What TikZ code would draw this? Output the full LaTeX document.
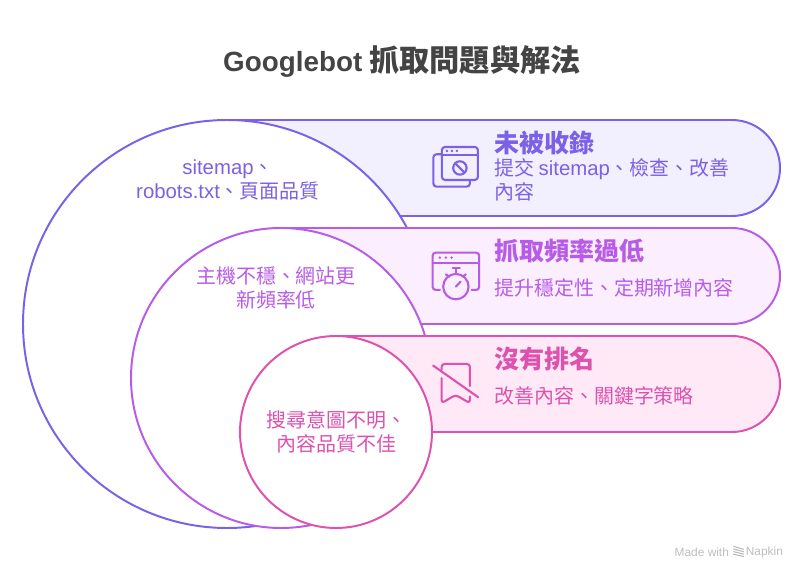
\documentclass[tikz,border=0pt]{standalone}
\usepackage{tkz-euclide}
\usepackage{fontspec}
\setmainfont{Noto Sans CJK TC}
\newfontfamily\lat[Scale=1.02]{Liberation Sans}
\newfontfamily\latbold[Scale=0.92]{Liberation Sans}
\definecolor{violetline}{HTML}{7B61E6}
\definecolor{violetfill}{HTML}{F2EFFF}
\definecolor{orchidline}{HTML}{B85CE8}
\definecolor{orchidfill}{HTML}{FAEEFF}
\definecolor{pinkline}{HTML}{DD52AE}
\definecolor{pinkfill}{HTML}{FFE9F6}
\definecolor{titlegray}{HTML}{444444}
\definecolor{markgray}{HTML}{BDBDBD}
\tikzset{
    head/.style={anchor=west,inner sep=0pt,font=\fontsize{17.8}{21}\selectfont\bfseries},
    body/.style={anchor=west,inner sep=0pt,align=left,font=\fontsize{14.2}{17.07}\selectfont},
    ringtext/.style={inner sep=0pt,align=center,font=\fontsize{14.2}{17.07}\selectfont},
    icon/.style={line width=1.5pt,line cap=round,line join=round,rounded corners=2.2pt},
}
\begin{document}
\begin{tikzpicture}
    \useasboundingbox (0,0) rectangle (20.1,14.4);
    \tkzDefPoint(5.675,6.3){A}
    \tkzDefPoint(7.025,4.95){B}
    \tkzDefPoint(8.4,3.6){C}
    \tkzDefShiftPoint[A](90:5.1){Atop}
    \tkzDefShiftPoint[B](90:3.75){Btop}
    \tkzDefShiftPoint[C](90:2.4){Ctop}
    % bands and rings, back to front
    \draw[line width=1.4pt,draw=violetline,fill=violetfill] (Atop) -- (18.3,11.4) arc (90:-90:1.2) -- (5.675,9) -- cycle;
    \tkzDrawCircle[line width=1.4pt,draw=violetline,fill=white](A,Atop)
    \fill[white] (10.2,6) rectangle (11.2,6.3);
    \draw[line width=1.4pt,draw=orchidline,fill=orchidfill] (Btop) -- (18.3,8.7) arc (90:-90:1.2) -- (7.025,6.3) -- cycle;
    \tkzDrawCircle[line width=1.4pt,draw=orchidline,fill=white](B,Btop)
    \draw[line width=1.4pt,draw=pinkline,fill=pinkfill] (Ctop) -- (18.3,6) arc (90:-90:1.2) -- (8.4,3.6) -- cycle;
    \tkzDrawCircle[line width=1.4pt,draw=pinkline,fill=white](C,Ctop)
    % texts
    \node[text=titlegray,font=\fontsize{21.5}{26}\selectfont\bfseries] (title) at (10.05,12.85) {{\latbold Googlebot} 抓取問題與解法};
    \node[ringtext,text=violetline] (ringa) at (5.7,9.9) {{\lat sitemap}、\\{\lat robots.txt}、頁面品質};
    \node[ringtext,text=orchidline] (ringb) at (6.9,7.2) {主機不穩、網站更\\新頻率低};
    \node[ringtext,text=pinkline] (ringc) at (8.42,3.6) {搜尋意圖不明、\\內容品質不佳};
    \node[head,text=violetline] (heada) at (12.35,10.82) {未被收錄};
    \node[body,text=violetline] (bodya) at (12.35,9.9) {提交 {\lat sitemap}、檢查、改善\\內容};
    \node[head,text=orchidline] (headb) at (12.35,8.12) {抓取頻率過低};
    \node[body,text=orchidline] (bodyb) at (12.35,7.2) {提升穩定性、定期新增內容};
    \node[head,text=pinkline] (headc) at (12.35,5.42) {沒有排名};
    \node[body,text=pinkline] (bodyc) at (12.35,4.5) {改善內容、關鍵字策略};
    \node[anchor=east,inner sep=0pt,text=markgray,font=\lat\fontsize{8.3}{10}\selectfont] (madewith) at (18.23,0.6) {Made with};
    \node[anchor=east,inner sep=0pt,text=markgray,font=\lat\fontsize{8.3}{10}\selectfont] (napkin) at (19.58,0.6) {Napkin};
    % icons, in pixels of the image
    \begin{scope}[shift={(0,14.4)},x=0.025cm,y=-0.025cm]
        \draw[icon,violetline] (442,147) rectangle (478,180);
        \draw[icon,violetline] (442,155) -- (478,155);
        \foreach \x in {447,452,457} \fill[violetline] (\x,151) circle (1.4);
        \draw[icon,violetline] (460,168) circle (6.7);
        \draw[icon,violetline] (455.3,163.3) -- (464.7,172.7);
        \draw[icon,violetline] (441.5,154.3) -- (433.5,154.3) -- (433.5,186.7) -- (470,186.7) -- (470,181.5);
        \draw[icon,orchidline] (440,290) -- (432.7,290) -- (432.7,252.7) -- (479.3,252.7) -- (479.3,290) -- (471.7,290);
        \draw[icon,orchidline] (432.7,263.3) -- (479.3,263.3);
        \foreach \x in {440,446,451.7} \fill[orchidline] (\x,257.7) circle (1.4);
        \draw[icon,orchidline] (456,286.7) circle (12.7);
        \draw[icon,orchidline] (456,268.3) -- (456,274);
        \draw[icon,orchidline] (452.7,268.3) -- (460,268.3);
        \draw[icon,orchidline] (446,274.5) -- (449.3,276.7);
        \draw[icon,orchidline] (466,274.5) -- (462.7,276.7);
        \draw[icon,orchidline] (456,286.7) -- (460.7,281.7);
        \draw[icon,pinkline] (441.7,370) -- (441.7,364) -- (470,364) -- (470,386);
        \draw[icon,pinkline] (441.7,378.3) -- (441.7,403.3) -- (455.7,395) -- (470,403.3) -- (470,396.7);
        \draw[icon,pinkline] (433.3,365.7) -- (478.3,397.3);
        \foreach \y in {0,1,2,3} \draw[line width=0.8pt,markgray] (733.5,546.5+\y*2.6) -- (744,549.5+\y*2.6-\y*0.2);
    \end{scope}
\end{tikzpicture}
\end{document}
